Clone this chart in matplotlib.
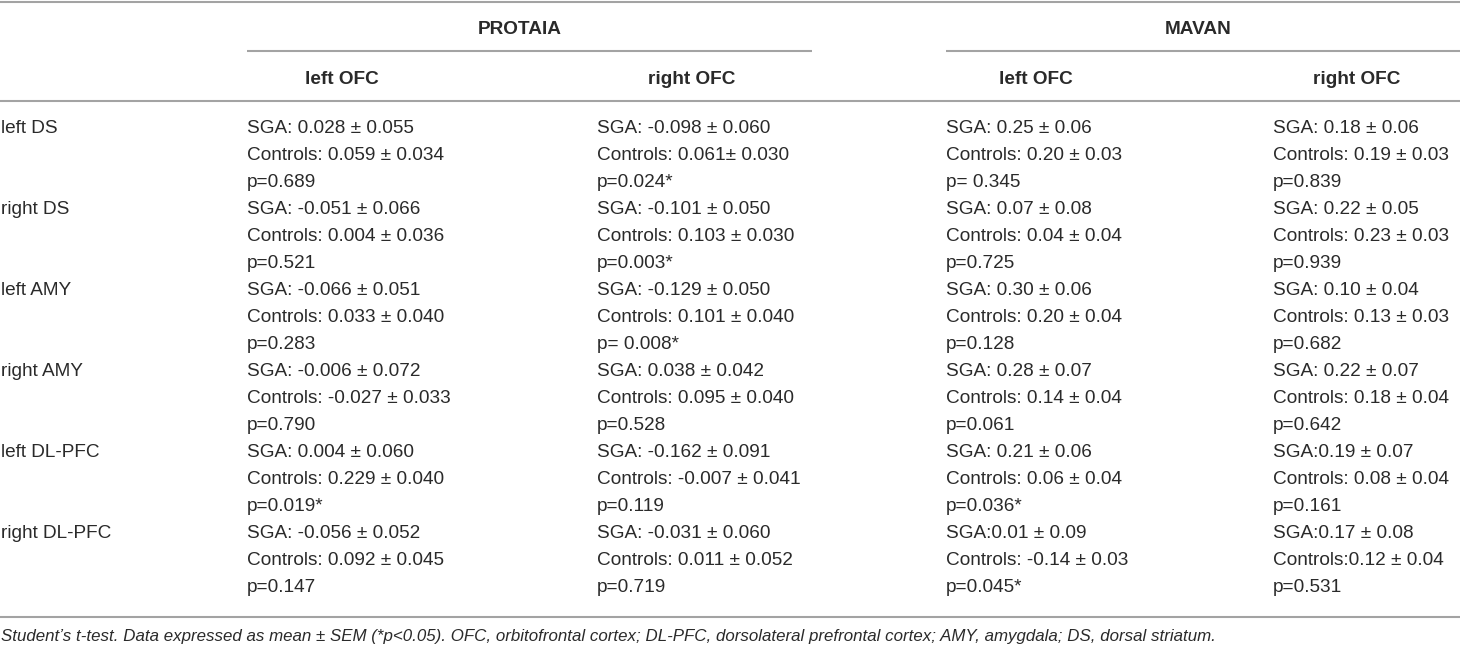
import matplotlib
matplotlib.use("Agg")
import matplotlib.pyplot as plt

W, H = 1460, 648

groups = ["PROTAIA", "MAVAN"]
sub_headers = ["left OFC", "right OFC", "left OFC", "right OFC"]
regions = ["left DS", "right DS", "left AMY", "right AMY", "left DL-PFC", "right DL-PFC"]

protaia_left = [
    ["SGA: 0.028 ± 0.055", "Controls: 0.059 ± 0.034", "p=0.689"],
    ["SGA: -0.051 ± 0.066", "Controls: 0.004 ± 0.036", "p=0.521"],
    ["SGA: -0.066 ± 0.051", "Controls: 0.033 ± 0.040", "p=0.283"],
    ["SGA: -0.006 ± 0.072", "Controls: -0.027 ± 0.033", "p=0.790"],
    ["SGA: 0.004 ± 0.060", "Controls: 0.229 ± 0.040", "p=0.019*"],
    ["SGA: -0.056 ± 0.052", "Controls: 0.092 ± 0.045", "p=0.147"],
]
protaia_right = [
    ["SGA: -0.098 ± 0.060", "Controls: 0.061± 0.030", "p=0.024*"],
    ["SGA: -0.101 ± 0.050", "Controls: 0.103 ± 0.030", "p=0.003*"],
    ["SGA: -0.129 ± 0.050", "Controls: 0.101 ± 0.040", "p= 0.008*"],
    ["SGA: 0.038 ± 0.042", "Controls: 0.095 ± 0.040", "p=0.528"],
    ["SGA: -0.162 ± 0.091", "Controls: -0.007 ± 0.041", "p=0.119"],
    ["SGA: -0.031 ± 0.060", "Controls: 0.011 ± 0.052", "p=0.719"],
]
mavan_left = [
    ["SGA: 0.25 ± 0.06", "Controls: 0.20 ± 0.03", "p= 0.345"],
    ["SGA: 0.07 ± 0.08", "Controls: 0.04 ± 0.04", "p=0.725"],
    ["SGA: 0.30 ± 0.06", "Controls: 0.20 ± 0.04", "p=0.128"],
    ["SGA: 0.28 ± 0.07", "Controls: 0.14 ± 0.04", "p=0.061"],
    ["SGA: 0.21 ± 0.06", "Controls: 0.06 ± 0.04", "p=0.036*"],
    ["SGA:0.01 ± 0.09", "Controls: -0.14 ± 0.03", "p=0.045*"],
]
mavan_right = [
    ["SGA: 0.18 ± 0.06", "Controls: 0.19 ± 0.03", "p=0.839"],
    ["SGA: 0.22 ± 0.05", "Controls: 0.23 ± 0.03", "p=0.939"],
    ["SGA: 0.10 ± 0.04", "Controls: 0.13 ± 0.03", "p=0.682"],
    ["SGA: 0.22 ± 0.07", "Controls: 0.18 ± 0.04", "p=0.642"],
    ["SGA:0.19 ± 0.07", "Controls: 0.08 ± 0.04", "p=0.161"],
    ["SGA:0.17 ± 0.08", "Controls:0.12 ± 0.04", "p=0.531"],
]
caption = ("Student’s t-test. Data expressed as mean ± SEM (*p<0.05). OFC, orbitofrontal cortex; "
           "DL-PFC, dorsolateral prefrontal cortex; AMY, amygdala; DS, dorsal striatum.")

columns = [protaia_left, protaia_right, mavan_left, mavan_right]

# layout (pixels)
col_x = [247, 597, 946, 1273]
sub_cx = [342, 692, 1036, 1357]
group_cx = [520, 1198]
group_span = [(247, 812), (946, 1460)]
label_x = 1
first_y = 126
line_h = 27.0
fs = 13.7
txt_color = "#2a2a2a"
rule_color = "#a3a3a3"
base_off = 6.8

plt.rcParams["font.family"] = ["Liberation Sans", "DejaVu Sans"]
fig = plt.figure(figsize=(W / 100, H / 100), dpi=100)
ax = fig.add_axes([0, 0, 1, 1])
ax.set_xlim(0, W)
ax.set_ylim(H, 0)
ax.axis("off")

def hline(y, x0=0, x1=W):
    ax.plot([x0, x1], [y, y], color=rule_color, lw=1.5, solid_capstyle="butt")

hline(1.5)
hline(51, *group_span[0])
hline(51, *group_span[1])
hline(101)
hline(617)

for g, cx in zip(groups, group_cx):
    ax.text(cx, 27 + base_off, g, ha="center", va="baseline", fontsize=fs,
            fontweight="bold", color=txt_color)
for s, cx in zip(sub_headers, sub_cx):
    ax.text(cx, 77 + base_off, s, ha="center", va="baseline", fontsize=fs,
            fontweight="bold", color=txt_color)

for i, r in enumerate(regions):
    y = first_y + i * 3 * line_h
    ax.text(label_x, y + base_off, r, ha="left", va="baseline", fontsize=fs, color=txt_color)
    for col, x in zip(columns, col_x):
        for k, line in enumerate(col[i]):
            ax.text(x, y + k * line_h + base_off, line, ha="left", va="baseline",
                    fontsize=fs, color=txt_color)

ax.text(1, 634 + base_off, caption, ha="left", va="baseline", fontsize=12.15,
        style="italic", color=txt_color)

fig.savefig("out.png", dpi=100)
